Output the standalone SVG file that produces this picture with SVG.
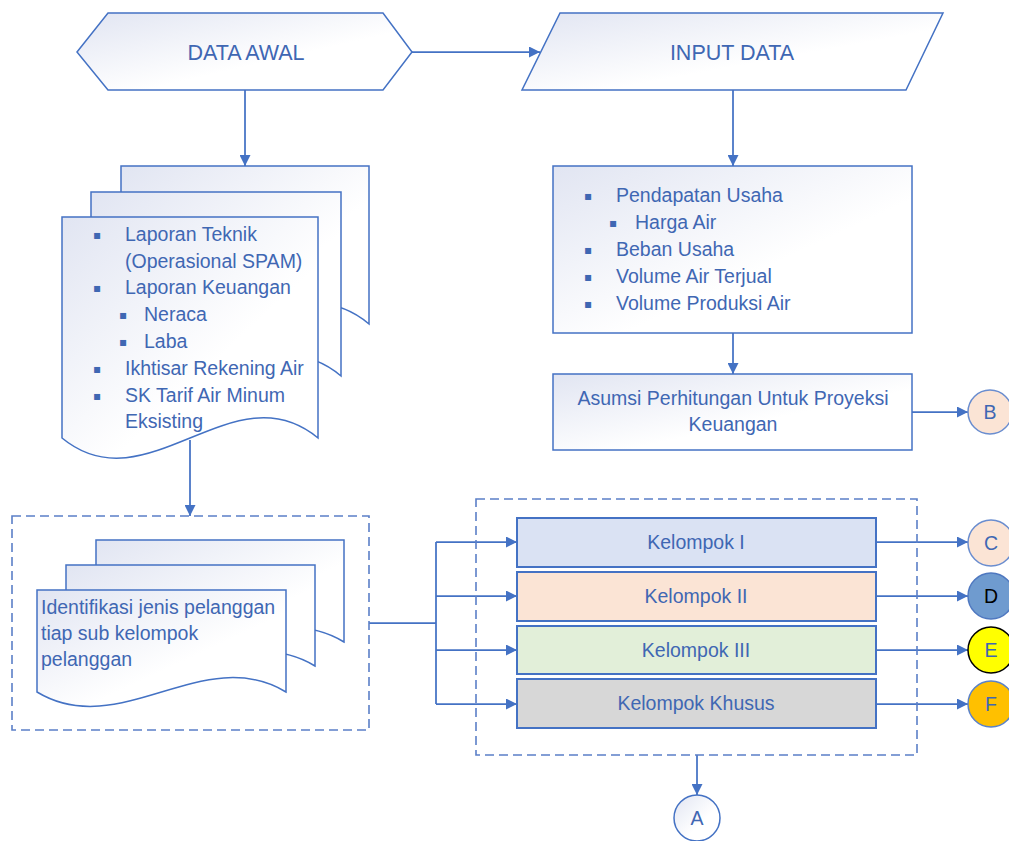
<svg xmlns="http://www.w3.org/2000/svg" width="1009" height="841" viewBox="0 0 1009 841">
<defs>
  <linearGradient id="g" x1="0" y1="0" x2="1" y2="1">
    <stop offset="0" stop-color="#E1E5F2"/>
    <stop offset="0.6" stop-color="#FFFFFF"/>
    <stop offset="1" stop-color="#FFFFFF"/>
  </linearGradient>
  <marker id="ah" markerUnits="userSpaceOnUse" markerWidth="11" markerHeight="11" refX="11" refY="5.5" orient="auto">
    <path d="M0,0 L11,5.5 L0,11 Z" fill="#4472C4"/>
  </marker>
  <style>
    .sh{fill:url(#g);stroke:#4472C4;stroke-width:1.5}
    .bx{stroke:#4472C4;stroke-width:2}
    .dash{fill:none;stroke:#5B7FC7;stroke-width:1.6;stroke-dasharray:9 5}
    .ln{fill:none;stroke:#4472C4;stroke-width:1.75}
    .ar{fill:none;stroke:#4472C4;stroke-width:1.75;marker-end:url(#ah)}
    .t{font-family:"Liberation Sans",Arial,sans-serif;font-size:19.5px;fill:#3F67B3}
    .tc{text-anchor:middle}
    .big{font-size:21.5px}
    .bul{font-family:"DejaVu Sans",sans-serif;font-size:12px;fill:#3F67B3;text-anchor:middle}
  </style>
</defs>

<g id="connectors">
  <path class="ar" d="M412,52 H540"/>
  <path class="ar" d="M245,90 V166"/>
  <path class="ar" d="M733,90 V166"/>
  <path class="ar" d="M733,333 V374"/>
  <path class="ar" d="M912,412 H968"/>
  <path class="ar" d="M190,440 V516"/>
  <path class="ln" d="M369,623 H436 M436,542 V704"/>
  <path class="ar" d="M436,542 H517"/>
  <path class="ar" d="M436,596 H517"/>
  <path class="ar" d="M436,650 H517"/>
  <path class="ar" d="M436,704 H517"/>
  <path class="ar" d="M876,542 H968"/>
  <path class="ar" d="M876,596 H968"/>
  <path class="ar" d="M876,650 H968"/>
  <path class="ar" d="M876,704 H968"/>
  <path class="ar" d="M697,755 V795"/>
</g>

<g id="data-awal">
  <polygon class="sh" points="77,52 108,13 383,13 412,52 383,90 108,90"/>
  <text class="t tc big" x="246" y="59.5">DATA AWAL</text>
</g>

<g id="input-data">
  <polygon class="sh" points="560,13 943,13 906,90 522,90"/>
  <text class="t tc big" x="732" y="59.5">INPUT DATA</text>
</g>

<g id="dokumen-awal">
  <path class="sh" d="M121,166 H369 V324 C286,254 204,394 121,324 Z"/>
  <path class="sh" d="M91,192 H341 V376 C258,306 174,446 91,376 Z"/>
  <path class="sh" d="M62,217 H318 V438 C233,368 147,508 62,438 Z"/>
  <text class="bul" x="97" y="239">▪</text>
  <text class="t" x="125" y="241">Laporan Teknik</text>
  <text class="t" x="125" y="268">(Operasional SPAM)</text>
  <text class="bul" x="97" y="292">▪</text>
  <text class="t" x="125" y="294">Laporan Keuangan</text>
  <text class="bul" x="123" y="319">▪</text>
  <text class="t" x="144" y="321">Neraca</text>
  <text class="bul" x="123" y="346">▪</text>
  <text class="t" x="144" y="348">Laba</text>
  <text class="bul" x="97" y="373">▪</text>
  <text class="t" x="125" y="375">Ikhtisar Rekening Air</text>
  <text class="bul" x="97" y="400">▪</text>
  <text class="t" x="125" y="402">SK Tarif Air Minum</text>
  <text class="t" x="125" y="428">Eksisting</text>
</g>

<g id="input-list">
  <rect class="sh" x="553" y="166" width="359" height="167"/>
  <text class="bul" x="588" y="200">▪</text>
  <text class="t" x="616" y="202">Pendapatan Usaha</text>
  <text class="bul" x="613" y="227">▪</text>
  <text class="t" x="635" y="229">Harga Air</text>
  <text class="bul" x="588" y="254">▪</text>
  <text class="t" x="616" y="256">Beban Usaha</text>
  <text class="bul" x="588" y="281">▪</text>
  <text class="t" x="616" y="283">Volume Air Terjual</text>
  <text class="bul" x="588" y="308">▪</text>
  <text class="t" x="616" y="310">Volume Produksi Air</text>
</g>

<g id="asumsi">
  <rect class="sh" x="553" y="374" width="359" height="76"/>
  <text class="t tc" x="733" y="405">Asumsi Perhitungan Untuk Proyeksi</text>
  <text class="t tc" x="733" y="431">Keuangan</text>
</g>

<g id="identifikasi">
  <rect class="dash" x="12" y="516" width="357" height="214"/>
  <path class="sh" d="M96,540 H344 V642 C261,592 179,692 96,642 Z"/>
  <path class="sh" d="M66,565 H315 V666 C232,616 149,716 66,666 Z"/>
  <path class="sh" d="M37,590 H286 V692 C203,642 120,742 37,692 Z"/>
  <text class="t" x="41" y="614">Identifikasi jenis pelanggan</text>
  <text class="t" x="41" y="640">tiap sub kelompok</text>
  <text class="t" x="41" y="666">pelanggan</text>
</g>

<g id="kelompok">
  <rect class="dash" x="476" y="499" width="441" height="256"/>
  <g id="kelompok-1">
    <rect class="bx" x="517" y="518" width="359" height="49" fill="#DAE2F3"/>
    <text class="t tc" x="696" y="549">Kelompok I</text>
  </g>
  <g id="kelompok-2">
    <rect class="bx" x="517" y="572" width="359" height="49" fill="#FBE4D5"/>
    <text class="t tc" x="696" y="603">Kelompok II</text>
  </g>
  <g id="kelompok-3">
    <rect class="bx" x="517" y="626" width="359" height="48" fill="#E2EFD9"/>
    <text class="t tc" x="696" y="657">Kelompok III</text>
  </g>
  <g id="kelompok-khusus">
    <rect class="bx" x="517" y="679" width="359" height="49" fill="#D7D7D7"/>
    <text class="t tc" x="696" y="710">Kelompok Khusus</text>
  </g>
</g>

<g id="circle-b">
  <circle cx="990" cy="412" r="22" fill="#FBE4D5" stroke="#6A8DCF" stroke-width="1.5"/>
  <text class="t tc" x="990" y="419">B</text>
</g>
<g id="circle-c">
  <circle cx="991" cy="543" r="23" fill="#FBE4D5" stroke="#6A8DCF" stroke-width="1.5"/>
  <text class="t tc" x="991" y="550">C</text>
</g>
<g id="circle-d">
  <circle cx="991" cy="596" r="23" fill="#6F9BCF" stroke="#4F78C0" stroke-width="1.5"/>
  <text class="t tc" x="991" y="603" style="fill:#000000">D</text>
</g>
<g id="circle-e">
  <circle cx="991" cy="650" r="23" fill="#FFFF00" stroke="#000000" stroke-width="1.5"/>
  <text class="t tc" x="991" y="657">E</text>
</g>
<g id="circle-f">
  <circle cx="991" cy="704" r="23" fill="#FFC000" stroke="#5B82C8" stroke-width="1.5"/>
  <text class="t tc" x="991" y="711">F</text>
</g>
<g id="circle-a">
  <circle class="sh" cx="697" cy="818" r="23"/>
  <text class="t tc" x="697" y="825">A</text>
</g>
</svg>
